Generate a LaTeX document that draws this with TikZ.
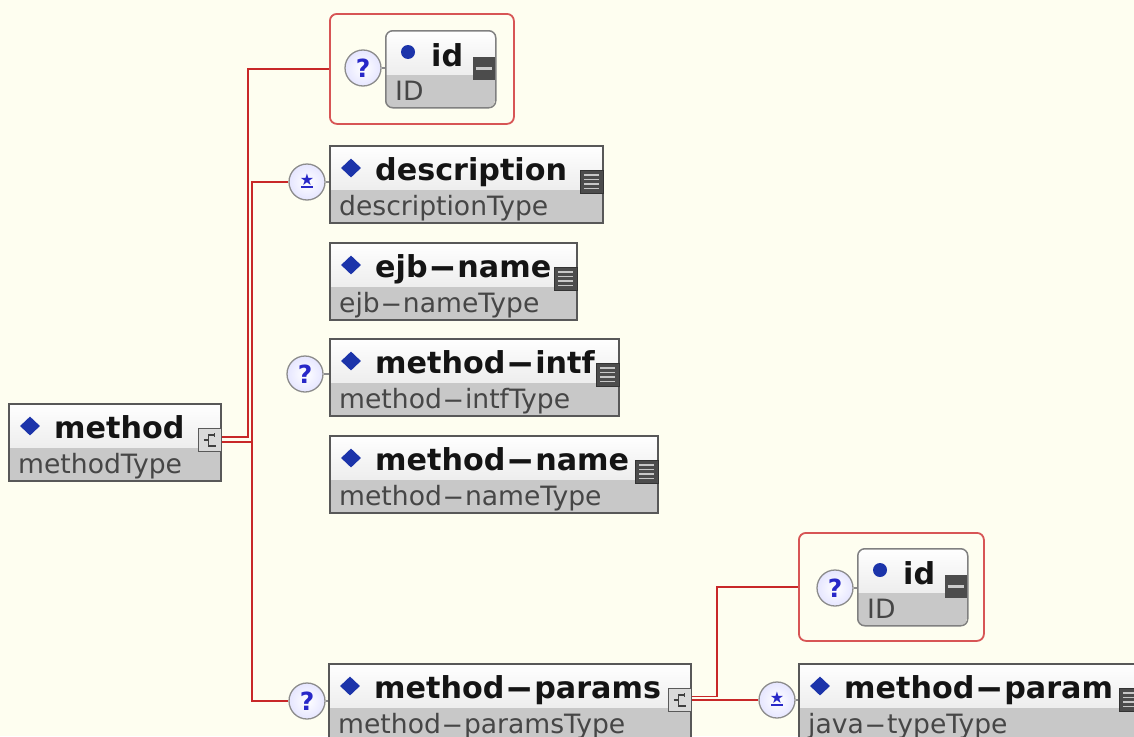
\documentclass[tikz,border=0pt]{standalone}
\usepackage{fontspec}
\usepackage{graphicx}
\setmainfont{DejaVu Sans}
\usetikzlibrary{shapes.geometric,calc}
\definecolor{bg}{RGB}{254,254,240}
\definecolor{conred}{RGB}{200,40,40}
\definecolor{boxline}{RGB}{88,88,88}
\definecolor{band}{RGB}{200,200,200}
\definecolor{typetext}{RGB}{70,70,70}
\definecolor{dmd}{RGB}{28,52,170}
\definecolor{qblue}{RGB}{40,40,200}
\definecolor{redframe}{RGB}{215,85,85}
\newcommand\hy{\kern0.5pt\scalebox{2.3}[1]{-}\kern0.5pt}
\newcommand\qmark{{\color{qblue}\fontsize{25}{25}\selectfont\bfseries ?}}
\tikzset{
  x=1pt, y=-1pt,
  conn/.style={draw=conred, line width=1.8pt},
  linkgray/.style={draw=black!45, line width=1.2pt},
  elemframe/.style={draw=boxline, line width=1.5pt},
  boldlbl/.style={font=\fontsize{30.2}{31}\selectfont\bfseries, text=black!92, inner sep=0pt, anchor=base west},
  typelbl/.style={font=\fontsize{26.6}{27}\selectfont, text=typetext, inner sep=0pt, anchor=base west},
  dmark/.style={diamond, fill=dmd, inner sep=0pt, minimum width=20pt, minimum height=19pt},
  occ/.style={circle, draw=black!45, line width=1.3pt, inner color=white, outer color=blue!10, minimum size=36pt, inner sep=0pt},
  redbox/.style={draw=redframe, line width=1.8pt, rounded corners=7pt, fill=bg, inner sep=0pt, anchor=north west},
  iconbox/.style={minimum width=23pt, minimum height=23pt, inner sep=0pt, anchor=north east},
}
\newcommand\xelem[6]{%
  \shade[top color=white, bottom color=black!7] (#2,#3) rectangle (#4,#3+45);
  \fill[band] (#2,#3+45) rectangle (#4,#3+77);
  \node[elemframe, anchor=north west, minimum width={#4-#2}, minimum height=77, inner sep=0pt] (#1) at (#2,#3) {};
  \node[dmark] (#1-d) at (#2+22,#3+23) {};
  \node[boldlbl] (#1-n) at (#2+46,#3+35) {#5};
  \node[typelbl] (#1-t) at (#2+10,#3+70) {#6};
}
\newcommand\listicon[1]{%
  \node[iconbox, fill=black!70, draw=black!80] (#1-i) at ([yshift=-25pt]#1.north east) {};
  \foreach \k in {5,9.5,14,18.5}
    \draw[black!22, line width=1.3pt] ($(#1-i.north west)+(4,\k)$) -- ++(15,0);
}
\newcommand\cplxicon[1]{%
  \node[iconbox, fill=black!15, draw=black!65, line width=1pt] (#1-i) at ([yshift=-25pt]#1.north east) {};
  \draw[black!75, line width=1.2pt] ($(#1-i.north west)+(17,7)$) -- ++(-6,0) -- ++(0,11) -- ++(7,0);
  \draw[black!75, line width=1.2pt] ($(#1-i.north west)+(6,12)$) -- ++(5,0);
  \draw[black!75, line width=1.2pt] ($(#1-i.north west)+(17,5)$) -- ++(0,4);
}
\newcommand\xid[3]{%
  \begin{scope}
    \clip[rounded corners=7pt] (#2,#3) rectangle (#2+110,#3+77);
    \shade[top color=white, bottom color=black!7] (#2,#3) rectangle (#2+110,#3+45);
    \fill[band] (#2,#3+45) rectangle (#2+110,#3+77);
  \end{scope}
  \node[draw=black!50, line width=1.5pt, rounded corners=7pt, anchor=north west, minimum width=110, minimum height=77, inner sep=0pt] (#1) at (#2,#3) {};
  \node[circle, fill=dmd, minimum size=14pt, inner sep=0pt] (#1-d) at (#2+23,#3+22) {};
  \node[boldlbl] (#1-n) at (#2+46,#3+36) {id};
  \node[typelbl] (#1-t) at (#2+10,#3+70) {ID};
  \node[minimum width=22pt, minimum height=23pt, inner sep=0pt, anchor=north east, fill=black!70] (#1-i) at (#2+110,#3+27) {};
  \draw[black!20, line width=3pt] ($(#1-i.west)+(3,0)$) -- ($(#1-i.east)+(-3,0)$);
}
\newcommand\starmark[1]{%
  \node[text=qblue, font=\fontsize{16}{16}\selectfont, inner sep=0pt] (#1-s) at ([yshift=2pt]#1.center) {★};
  \draw[qblue, line width=1.4pt] ([xshift=-6pt,yshift=-5pt]#1.center) -- ([xshift=6pt,yshift=-5pt]#1.center);
}
\begin{document}
\begin{tikzpicture}
\useasboundingbox (0,0) rectangle (1134,736);
\clip (0,0) rectangle (1134,736);
\fill[bg] (0,0) rectangle (1134,736);

% red framed attribute groups
\node[redbox, minimum width=184, minimum height=110] (rb1) at (329,13) {};
\xid{id1}{385}{30}
\node[occ] (q1) at (363,68) {\qmark};
\draw[linkgray] (q1.east) -- (q1.east -| id1.west);

\node[redbox, minimum width=185, minimum height=108] (rb2) at (798,532) {};
\xid{id2}{857}{548}
\node[occ] (q2) at (835,588) {\qmark};
\draw[linkgray] (q2.east) -- (q2.east -| id2.west);

% elements
\xelem{meth}{8}{403}{220}{method}{methodType}
\cplxicon{meth}
\xelem{desc}{329}{145}{602}{description}{descriptionType}
\listicon{desc}
\xelem{ejb}{329}{242}{576}{ejb\hy name}{ejb\hy nameType}
\listicon{ejb}
\xelem{intf}{329}{338}{618}{method\hy intf}{method\hy intfType}
\listicon{intf}
\xelem{mname}{329}{435}{657}{method\hy name}{method\hy nameType}
\listicon{mname}
\xelem{params}{328}{663}{690}{method\hy params}{method\hy paramsType}
\cplxicon{params}
\xelem{param}{798}{663}{1141}{method\hy param}{java\hy typeType}
\listicon{param}

% occurrence circles
\node[occ] (c-desc) at (307,182) {};
\starmark{c-desc}
\node[occ] (c-intf) at (305,374) {\qmark};
\node[occ] (c-params) at (307,701) {\qmark};
\node[occ] (c-param) at (777,700) {};
\starmark{c-param}
\draw[linkgray] (c-desc.east) -- (c-desc.east -| desc.west);
\draw[linkgray] (c-intf.east) -- (c-intf.east -| intf.west);
\draw[linkgray] (c-params.east) -- (c-params.east -| params.west);
\draw[linkgray] (c-param.east) -- (c-param.east -| param.west);

% connectors
\draw[conn] ([yshift=3pt]meth-i.east) -| ([xshift=-81pt]rb1.west) |- (rb1.west);
\draw[conn] ([yshift=-2pt]meth-i.east) -| ([xshift=-36pt]c-desc.west) |- (c-desc.west);
\draw[conn] ([yshift=-2pt]meth-i.east) -| ([xshift=-36pt]c-params.west) |- (c-params.west);
\draw[conn] ([yshift=3.5pt]params-i.east) -| ([xshift=-81pt]rb2.west) |- (rb2.west);
\draw[conn] (params-i.east |- c-param.west) -- (c-param.west);
\end{tikzpicture}
\end{document}
